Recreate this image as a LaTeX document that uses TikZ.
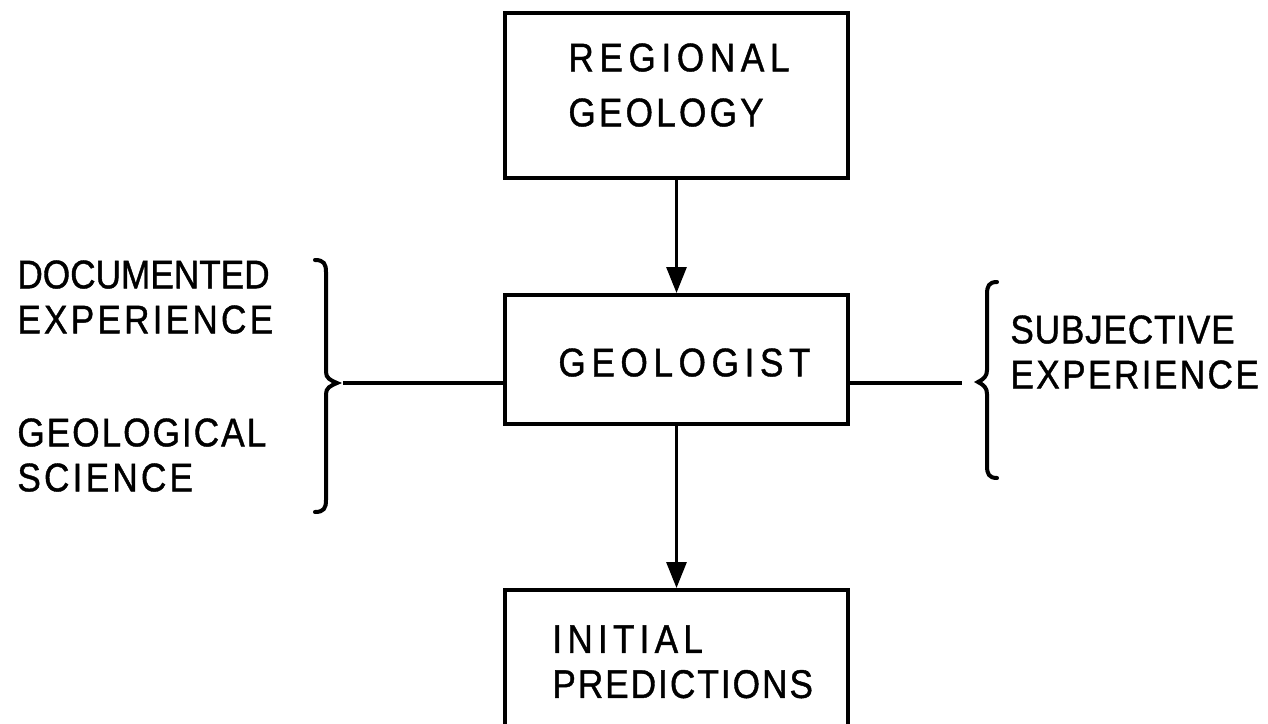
\documentclass[tikz,border=0pt]{standalone}
\usepackage{fontspec}
\newfontfamily\lettering{Liberation Sans}[FakeStretch=0.88, LetterSpace=8, FakeBold=1]
\newcommand{\spaced}[2]{{\addfontfeature{LetterSpace=#1}#2}}
\usetikzlibrary{arrows.meta}

\tikzset{
  box/.style={draw, line width=2pt, minimum width=171.5pt, inner sep=0pt},
  lbl/.style={font=\lettering\fontsize{20}{22.5}\selectfont, align=left,
    anchor=north west, inner sep=0pt},
  flow/.style={line width=1.5pt, -{Triangle[width=10pt, length=13pt]}},
  tie/.style={line width=1.6pt},
  bracket/.style={line width=2pt, line cap=round}
}

\begin{document}
\begin{tikzpicture}[x=0.5pt, y=-0.5pt]
    \useasboundingbox (0,0) rectangle (1268,723);

    % boxes
    \node[box, minimum height=82.5pt] (reg) at (676.5,95.5) {};
    \node[lbl, font=\lettering\fontsize{20}{27.5}\selectfont] (regtext) at (568,43)
        {\spaced{14}{REGIONAL}\\GEOLOGY};
    \node[box, minimum height=64.5pt] (geo) at (676.5,359.5) {};
    \node[lbl] (geotext) at (558,348) {\spaced{14}{GEOLOGIST}};
    \node[box, minimum height=73pt, anchor=north] (pred) at (676.5,588) {};
    \node[lbl] (predtext) at (552,625) {\spaced{13}{INITIAL}\\\spaced{5}{PREDICTIONS}};

    % side texts
    \node[lbl] (docexp) at (17,260) {\spaced{0}{DOCUMENTED}\\EXPERIENCE};
    \node[lbl] (geosci) at (17,418) {\spaced{5}{GEOLOGICAL}\\SCIENCE};
    \node[lbl] (subexp) at (1010,315) {\spaced{2}{SUBJECTIVE}\\\spaced{6}{EXPERIENCE}};

    % braces
    \coordinate (lcusp) at (337,383);
    \coordinate (rcusp) at (978,382);
    \draw[bracket] (315,260) .. controls (324,260) and (326,264) .. (326,272)
        -- (326,372) .. controls (326,378) and (330,380) .. (lcusp)
        .. controls (330,386) and (326,388) .. (326,394)
        -- (326,500) .. controls (326,508) and (324,512) .. (315,512);
    \draw[bracket] (997,282) .. controls (989,282) and (987,286) .. (987,294)
        -- (987,370) .. controls (987,376) and (984,379) .. (rcusp)
        .. controls (984,385) and (987,388) .. (987,394)
        -- (987,466) .. controls (987,474) and (989,478) .. (997,478);

    % connectors
    \coordinate (ltie) at (343,383);
    \coordinate (rtie) at (962,383);
    \draw[tie] (ltie) -- (ltie -| geo.west);
    \draw[tie] (geo.east |- rtie) -- (rtie);
    \draw[flow] (reg.south) -- (geo.north);
    \draw[flow] (geo.south) -- (pred.north);
\end{tikzpicture}
\end{document}
